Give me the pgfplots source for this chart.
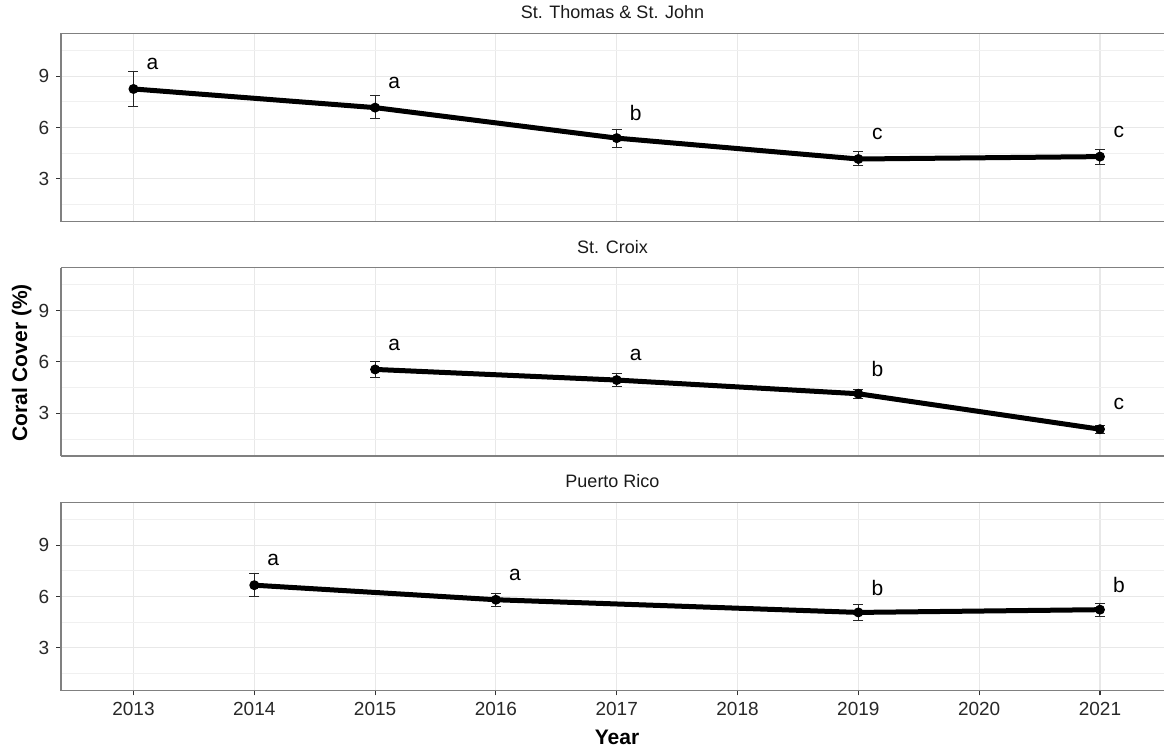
\documentclass[border=0pt]{standalone}
\usepackage{pgfplots}
\pgfplotsset{compat=1.18}
\usepackage{pgfplotstable}
\usepackage{fontspec}
\setmainfont{Liberation Sans}

\definecolor{border}{RGB}{128,128,128}
\definecolor{gridmaj}{RGB}{232,232,232}
\definecolor{gridmin}{RGB}{240,240,240}
\definecolor{tickc}{RGB}{51,51,51}
\definecolor{ticktext}{RGB}{40,40,40}
\definecolor{striptext}{RGB}{26,26,26}

\pgfplotstableread{
x y ep em lab
2013 8.25 1.04 1.05 a
2015 7.16 0.70 0.66 a
2017 5.38 0.52 0.54 b
2019 4.16 0.41 0.37 c
2021 4.30 0.42 0.47 c
}\stj

\pgfplotstableread{
x y ep em lab
2015 5.56 0.44 0.45 a
2017 4.94 0.36 0.39 a
2019 4.14 0.25 0.29 b
2021 2.07 0.23 0.23 c
}\stx

\pgfplotstableread{
x y ep em lab
2014 6.66 0.68 0.66 a
2016 5.81 0.38 0.39 a
2019 5.07 0.47 0.46 b
2021 5.23 0.38 0.41 b
}\pr

\pgfplotsset{
 panel/.style={
  scale only axis, width=551.5pt, height=94.2pt,
  xmin=2012.4, xmax=2021.53, ymin=0.5, ymax=11.5,
  axis x line*=box, axis y line*=left,
  axis line style={draw=border, line width=0.7pt},
  xtick={2013,2014,2015,2016,2017,2018,2019,2020,2021},
  ytick={3,6,9}, minor ytick={1.5,4.5,7.5,10.5},
  grid=both,
  major grid style={draw=gridmaj, line width=0.55pt},
  minor grid style={draw=gridmin, line width=0.45pt},
  minor tick length=0pt,
  tick align=outside, major tick length=2.4pt,
  tick style={draw=tickc, line width=0.55pt},
  tick pos=left,
  /pgf/number format/assume math mode=true,
  /pgf/number format/1000 sep={},
  yticklabel style={font=\fontsize{9.5}{10}\selectfont, text=ticktext},
  xticklabel style={font=\fontsize{9.5}{10}\selectfont, text=ticktext},
  every axis title shift=0pt,
  title style={at={(0.5,1)}, anchor=base, yshift=7.3pt, font=\fontsize{9}{10}\selectfont, text=striptext},
  anchor=north west,
 },
 errs/.style={only marks, mark=none,
  error bars/.cd, y dir=both, y explicit,
  error bar style={line width=0.5pt, black!85},
  error mark options={rotate=90, mark size=2.5pt, line width=0.5pt, black!85}},
 mainline/.style={black, line width=2.5pt, mark=*, mark size=1.15pt, mark options={solid},
  nodes near coords, point meta=explicit symbolic,
  nodes near coords style={anchor=center, xshift=9.5pt, yshift=12.4pt, font=\fontsize{10.5}{12}\selectfont, text=black}},
}

\begin{document}
\begin{tikzpicture}
\begin{axis}[panel, at={(30.5pt,-16.65pt)}, title={St. Thomas \& St. John}, xticklabels={}, xtick style={draw=none}]
\addplot[errs] table[x=x, y=y, y error plus=ep, y error minus=em] {\stj};
\addplot[mainline] table[x=x, y=y, meta=lab] {\stj};
\end{axis}
\begin{axis}[panel, at={(30.5pt,-133.85pt)}, title={St. Croix}, xticklabels={}, xtick style={draw=none}]
\addplot[errs] table[x=x, y=y, y error plus=ep, y error minus=em] {\stx};
\addplot[mainline] table[x=x, y=y, meta=lab] {\stx};
\end{axis}
\begin{axis}[panel, at={(30.5pt,-251.15pt)}, title={Puerto Rico}]
\addplot[errs] table[x=x, y=y, y error plus=ep, y error minus=em] {\pr};
\addplot[mainline] table[x=x, y=y, meta=lab] {\pr};
\end{axis}
\node[rotate=90, anchor=base, font=\bfseries\fontsize{10.5}{12}\selectfont] at (13.5pt,-181.5pt) {Coral Cover (\%)};
\node[anchor=base, font=\bfseries\fontsize{10.5}{12}\selectfont] at (308.5pt,-372.5pt) {Year};
\pgfresetboundingbox
\path (0,0) rectangle (582pt,-374pt);
\end{tikzpicture}
\end{document}
